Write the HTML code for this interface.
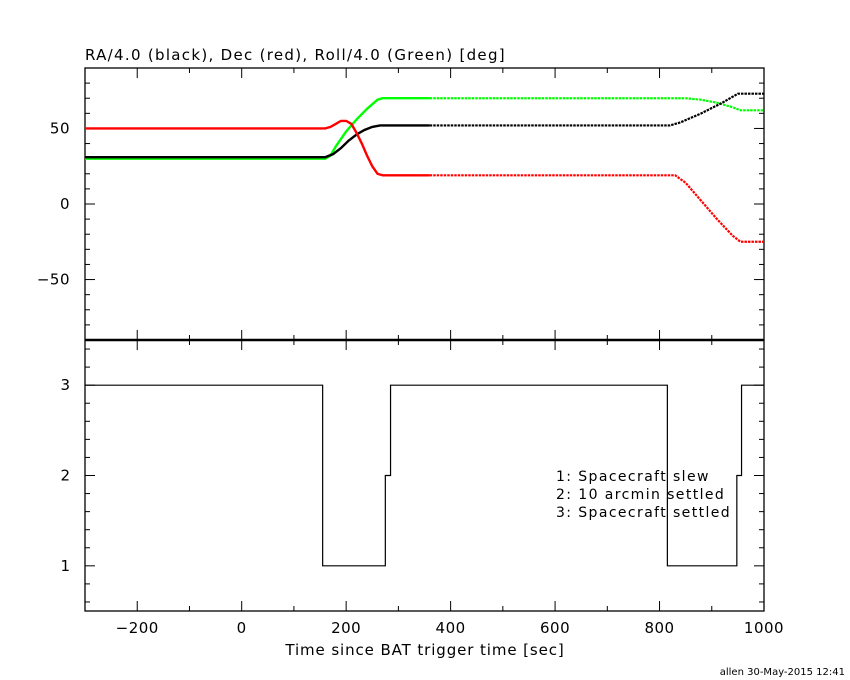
<!DOCTYPE html>
<html><head><meta charset="utf-8"><style>
body{margin:0;background:#fff;}
svg{display:block;font-family:"DejaVu Sans","Liberation Sans",sans-serif;}
</style></head><body>
<svg id="c" width="850" height="680">
<text x="85" y="60" font-size="15" letter-spacing="1.3">RA/4.0 (black), Dec (red), Roll/4.0 (Green) [deg]</text>
<text x="425" y="655" font-size="15" letter-spacing="0.9" text-anchor="middle">Time since BAT trigger time [sec]</text>
<text x="845" y="675" font-size="10" text-anchor="end">allen 30-May-2015 12:41</text>
<g font-size="14" letter-spacing="1.4">
<text x="556" y="481">1: Spacecraft slew</text>
<text x="556" y="499">2: 10 arcmin settled</text>
<text x="556" y="517">3: Spacecraft settled</text>
</g>
</svg>
<script>
const raT=[-300,160,175,190,205,220,235,250,265,280,360,820,840,880,920,950,1000];
const raV=[31,31,33,37,42,46,49,51,52,52,52,52,54,60,67,73,73];
const decT=[-300,160,170,180,190,200,210,220,230,240,250,260,270,280,360,830,850,880,910,940,955,1000];
const decV=[50,50,51,53,55,55,53,47,40,32,25,20,19,19,19,19,14,2,-10,-21,-25,-25];
const rollT=[-300,160,170,180,200,220,240,260,270,280,360,850,880,910,940,955,1000];
const rollV=[30,30,32,38,48,56,63,69,70,70,70,70,69,67,64,62,62];
const stT=[-300,155,155,275,275,285,285,815,815,948,948,957,957,1000];
const stV=[3,3,1,1,2,2,3,3,1,1,2,2,3,3];
const xTicks=[-200,0,200,400,600,800,1000];
const yTopTicks=[-50,0,50];
const yBotTicks=[1,2,3];

const svg=document.getElementById('c');const NS='http://www.w3.org/2000/svg';
const L=85,R=764,T=68,M=340,B=611;
const X=t=>L+(t+300)/1300*(R-L);
const YT=v=>T+(90-v)/180*(M-T);
const YB=v=>M+(3.5-v)/3*(B-M);
function el(tag,a){const e=document.createElementNS(NS,tag);for(const k in a)e.setAttribute(k,a[k]);svg.appendChild(e);return e;}
function ln(x1,y1,x2,y2,w){return el('line',{x1,y1,x2,y2,stroke:'#000','stroke-width':w||1});}
let f=el('rect',{x:L,y:T,width:R-L,height:B-T,fill:'none',stroke:'#000','stroke-width':1.3});


let d=ln(L,M,R,M,2.5);


for(let t=-300;t<=1000;t+=100){const x=X(t);const maj=t%200===0;const s=maj?10:5;
 ln(x,T,x,T+s);ln(x,M,x,M-s);ln(x,M,x,M+s);ln(x,B,x,B-s);}
xTicks.forEach(t=>{const tx=el('text',{x:X(t),y:633,'font-size':15,'text-anchor':'middle','letter-spacing':0.5});tx.textContent=t<0?'\u2212'+(-t):t;
 
 });
for(let v=-80;v<=90;v+=10){const y=YT(v);const s=v%50===0?10:5;ln(L,y,L+s,y);ln(R,y,R-s,y);}
yTopTicks.forEach(v=>{const tx=el('text',{x:L-15,y:YT(v)+5,'font-size':15,'text-anchor':'end','letter-spacing':0.5});tx.textContent=v<0?'\u2212'+(-v):v;
 
 });
for(let i=3;i<=17;i++){const v=i/5;const y=YB(v);const s=i%5===0?10:5;ln(L,y,L+s,y);ln(R,y,R-s,y);}
yBotTicks.forEach(v=>{const tx=el('text',{x:L-15,y:YB(v)+5,'font-size':15,'text-anchor':'end'});tx.textContent=v;
 
 });
function series(ts,vs,col,name){
 const solid=[],dot=[];
 ts.forEach((t,i)=>{const p=X(t)+','+YT(vs[i]);if(t<=360)solid.push(p);if(t>=360)dot.push(p);});
 const a=el('polyline',{points:solid.join(' '),fill:'none',stroke:col,'stroke-width':2.4});
 
 
 const b=el('polyline',{points:dot.join(' '),fill:'none',stroke:col,'stroke-width':2.2,'stroke-dasharray':'2.5 1'});
 
 
}
series(rollT,rollV,'#00ff00','roll');
series(raT,raV,'#000','ra');
series(decT,decV,'#f00','dec');
const sp=stT.map((t,i)=>X(t)+','+YB(stV[i])).join(' ');
const st=el('polyline',{points:sp,fill:'none',stroke:'#000','stroke-width':1.2});


</script>
</body></html>
